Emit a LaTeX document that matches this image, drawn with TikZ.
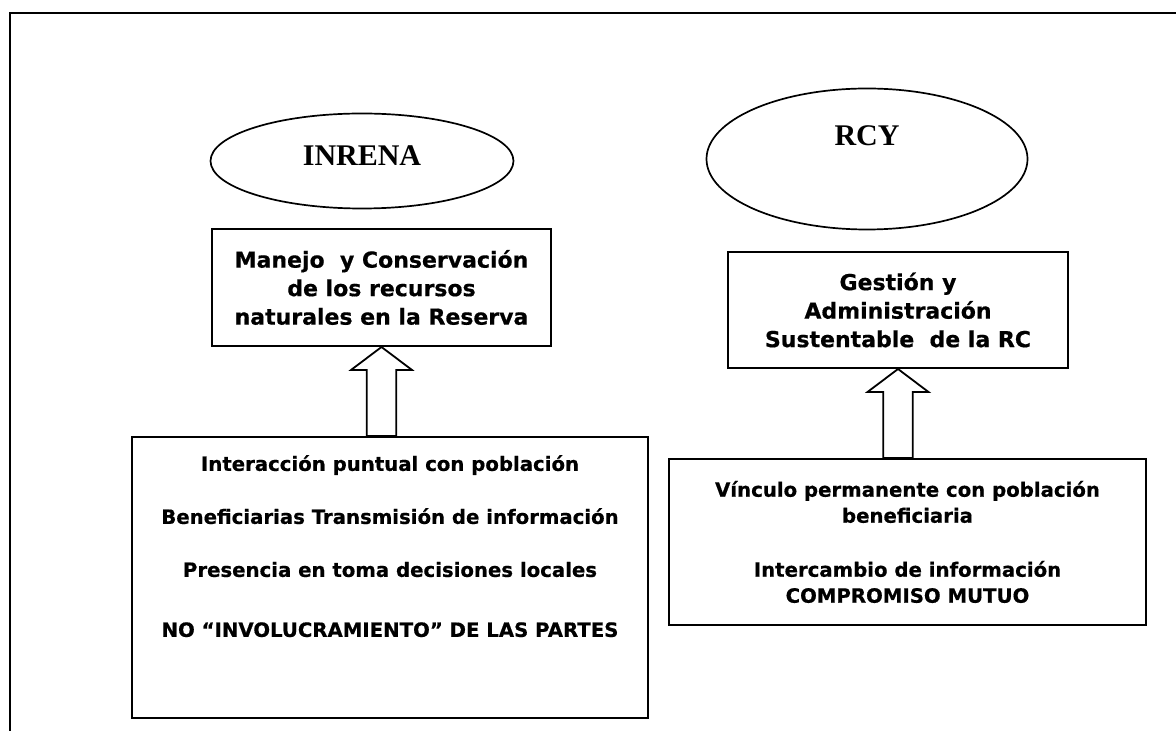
\documentclass[tikz,border=0pt]{standalone}
\usepackage{fontspec}
\setmainfont{Liberation Serif}
\newfontfamily\tahoma{DejaVu Sans}[BoldFeatures={FakeBold=0.6}]
\usetikzlibrary{positioning,shapes.geometric,calc}

\begin{document}
\begin{tikzpicture}[x=0.5pt, y=-0.5pt,
    org/.style={ellipse, draw, line width=0.85pt},
    orgname/.style={font=\fontsize{15pt}{18pt}\selectfont\bfseries},
    goal/.style={rectangle, draw, line width=1pt, align=center,
        font=\tahoma\fontsize{11pt}{14.25pt}\selectfont\bfseries},
    link/.style={rectangle, draw, line width=1pt, align=center,
        font=\tahoma\fontsize{9.85pt}{13pt}\selectfont\bfseries},
    block/.style={draw, line width=0.9pt,
        to path={let \p1=(\tikztostart.north), \p2=(\tikztotarget.south) in
            (\p2) -- (\x2+15.25pt,\y2-11.5pt) -- (\x2+7.4pt,\y2-11.5pt)
            -- (\x2+7.4pt,\y1) -- (\x2-7.4pt,\y1) -- (\x2-7.4pt,\y2-11.5pt)
            -- (\x2-15.25pt,\y2-11.5pt) -- cycle}}]
    \useasboundingbox (0,0) rectangle (1176,731);
    \draw[line width=1pt] (1176,13) -- (10,13) -- (10,731);
    % INRENA
    \node[org, minimum width=151.5pt, minimum height=47.5pt,
        label={[orgname, yshift=2.5pt]center:INRENA}] (i0) at (362,161) {};
    \node[goal, minimum width=169.5pt, minimum height=58.5pt] (i1) at (381.5,287.5)
        {Manejo\ \ y Conservación\\de los recursos\\naturales en la Reserva};
    \node[link, minimum width=258pt, minimum height=140.5pt] (i2) at (390,577.5)
        {Interacción puntual con población\\[13.5pt]
         Beneficiarias Transmisión de información\\[13.5pt]
         Presencia en toma decisiones locales\\[17pt]
         NO “INVOLUCRAMIENTO” DE LAS PARTES\\[18.5pt]\mbox{}};
    % RCY
    \node[org, minimum width=160.5pt, minimum height=70.5pt,
        label={[orgname, yshift=11.75pt]center:RCY}] (r0) at (867,159) {};
    \node[goal, minimum width=170pt, minimum height=58pt] (r1) at (898,310)
        {Gestión y\\Administración\\Sustentable\ \ de la RC};
    \node[link, minimum width=238.5pt, minimum height=83pt] (r2) at (907.5,542)
        {Vínculo permanente con población\\beneficiaria\\[14pt]
         Intercambio de información\\COMPROMISO MUTUO};
    \path (i2) edge[block] (i1)
        (r2) edge[block] (r1);
\end{tikzpicture}
\end{document}
